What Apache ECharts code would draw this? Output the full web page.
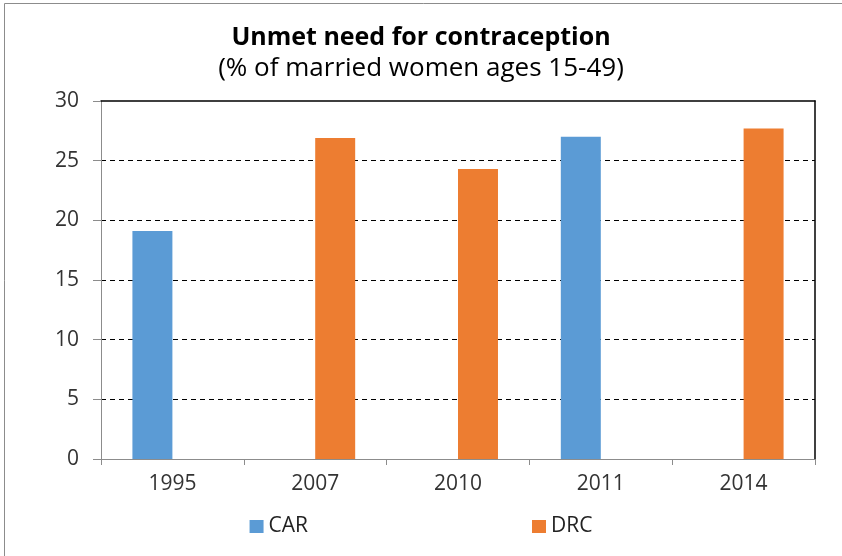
<!DOCTYPE html>
<html>
<head>
<meta charset="utf-8">
<script src="https://cdn.jsdelivr.net/npm/echarts@6/dist/echarts.min.js"></script>
<style>html,body{margin:0;padding:0;background:#fff;}#c{width:842px;height:556px;}</style>
</head>
<body>
<div id="c"></div>
<script>
var categories = ['1995', '2007', '2010', '2011', '2014'];
var carValues = [19.1, null, null, 27.0, null];
var drcValues = [null, 26.9, 24.3, null, 27.7];
var yTicks = [0, 5, 10, 15, 20, 25, 30];

var FONT = '"Open Sans", "Liberation Sans", sans-serif';
var chart = echarts.init(document.getElementById('c'));
chart.setOption({
  animation: false,
  backgroundColor: '#fff',
  title: {
    text: 'Unmet need for contraception',
    subtext: '(% of married women ages 15-49)',
    left: 'center',
    top: 20,
    itemGap: 6,
    textStyle: { fontFamily: FONT, fontWeight: 'bold', fontSize: 25, color: '#000' },
    subtextStyle: { fontFamily: FONT, fontSize: 26, color: '#000' }
  },
  graphic: [{
    type: 'rect', shape: { x: 4.5, y: 3.5, width: 860, height: 580 },
    style: { fill: 'none', stroke: '#8c8c8c', lineWidth: 1 }, silent: true, z: -1
  }],
  legend: {
    bottom: 14,
    left: 'center',
    itemGap: 224,
    itemWidth: 14,
    itemHeight: 13,
    icon: 'rect',
    textStyle: { fontFamily: FONT, fontSize: 21, color: '#222' },
    data: ['CAR', 'DRC']
  },
  grid: { left: 101, right: 27, top: 101, bottom: 97 },
  xAxis: [{
    type: 'category',
    data: categories,
    axisLine: { onZero: false, lineStyle: { color: '#8c8c8c', width: 1 } },
    axisTick: { show: true, length: 6, lineStyle: { color: '#8c8c8c' } },
    axisLabel: { fontFamily: FONT, fontSize: 21, color: '#333', margin: 15 }
  }, {
    type: 'category',
    position: 'top',
    data: categories,
    axisLine: { onZero: false, lineStyle: { color: '#000', width: 1.5 } },
    axisTick: { show: false },
    axisLabel: { show: false }
  }],
  yAxis: [{
    type: 'value',
    min: 0, max: 30, interval: 5,
    axisLine: { show: true, onZero: false, lineStyle: { color: '#8c8c8c', width: 1 } },
    axisTick: { show: true, length: 8, lineStyle: { color: '#8c8c8c' } },
    axisLabel: { fontFamily: FONT, fontSize: 21, color: '#333', margin: 22,
      formatter: function (v) { return yTicks.indexOf(v) >= 0 ? String(v) : ''; } },
    splitLine: { show: true, showMaxLine: false, lineStyle: { color: '#000', type: [5, 4], width: 1 } }
  }, {
    type: 'value',
    position: 'right',
    min: 0, max: 30, interval: 5,
    axisLine: { show: true, onZero: false, lineStyle: { color: '#000', width: 1.5 } },
    axisTick: { show: false },
    axisLabel: { show: false },
    splitLine: { show: false }
  }],
  series: [{
    name: 'CAR', type: 'bar', data: carValues,
    itemStyle: { color: '#5B9BD5' },
    barGap: '0%', barCategoryGap: '44%'
  }, {
    name: 'DRC', type: 'bar', data: drcValues,
    itemStyle: { color: '#ED7D31' },
    barGap: '0%', barCategoryGap: '44%'
  }]
});
</script>
</body>
</html>
